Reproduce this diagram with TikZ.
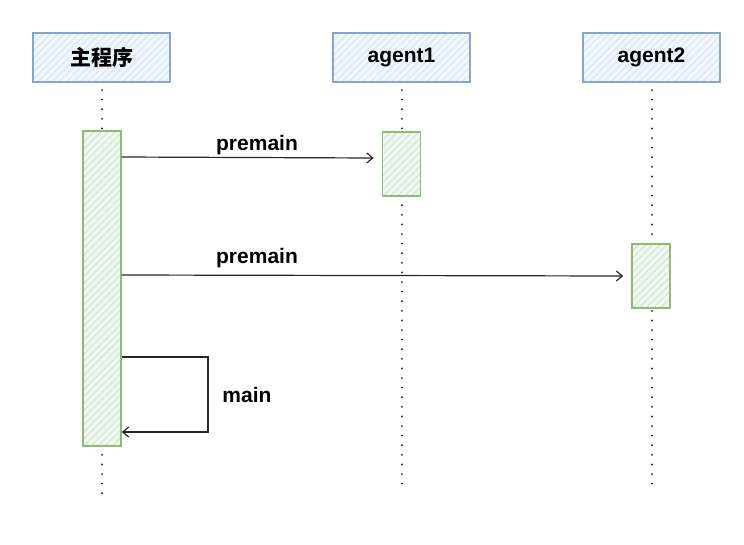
\documentclass[tikz,border=0pt]{standalone}
\usepackage{fontspec}
\setmainfont{Liberation Sans}
\newfontfamily\cjk{Noto Sans CJK SC}
\usetikzlibrary{patterns,patterns.meta,arrows.meta}
\definecolor{hdrfill}{HTML}{DAE8FC}
\definecolor{hdrdraw}{HTML}{6C8EBF}
\definecolor{actfill}{HTML}{D5E8D4}
\definecolor{actdraw}{HTML}{82B366}
\tikzset{
  hdr/.style={draw=hdrdraw!80, line width=1.3pt, preaction={fill=hdrfill!35},
    pattern={Lines[angle=45,distance=5pt,line width=1.3pt]}, pattern color=hdrfill,
    minimum width=137pt, minimum height=49pt, inner sep=0pt,
    font=\fontsize{21}{25}\selectfont\bfseries},
  act/.style={draw=actdraw!90, line width=1.6pt, preaction={fill=actfill!35},
    pattern={Lines[angle=45,distance=5pt,line width=1.3pt]}, pattern color=actfill,
    inner sep=0pt},
  life/.style={line width=2pt, dash pattern=on 0.1pt off 9.5pt, line cap=round, black!85},
  msg/.style={line width=1.2pt, -{Straight Barb[length=6pt,width=10pt]}, black!85},
  lbl/.style={font=\fontsize{21}{25}\selectfont\bfseries, inner sep=0pt}
}
\begin{document}
\begin{tikzpicture}[x=1pt,y=-1pt]
\useasboundingbox (0,0) rectangle (744,544);
% lifelines
\coordinate (l0top) at (102,90);
\coordinate (l0bot) at (102,495);
\coordinate (l1top) at (402,90);
\coordinate (l1bot) at (402,485);
\coordinate (l2top) at (652,90);
\coordinate (l2bot) at (652,485);
\draw[life] (l0top) -- (l0bot);
\draw[life] (l1top) -- (l1bot);
\draw[life] (l2top) -- (l2bot);
% headers
\node[hdr] (h0) at (101.5,57.5) {\cjk\bfseries 主程序};
\node[hdr] (h1) at (401.5,57.5) {agent1};
\node[hdr] (h2) at (651.5,57.5) {agent2};
% activations
\node[act, minimum width=38pt, minimum height=315pt] (a0) at (102,288.5) {};
\node[act, minimum width=38pt, minimum height=64pt] (a1) at (401.5,164) {};
\node[act, minimum width=38pt, minimum height=64pt] (a2) at (651,276) {};
% messages
\draw[msg] (a0.east |- 0,157) -- ([xshift=-8pt]a1.west |- 0,158);
\node[lbl] (m1) at (257,145) {premain};
\draw[msg] (a0.east |- 0,275) -- ([xshift=-8pt]a2.west |- 0,276);
\node[lbl] (m2) at (257,258) {premain};
\coordinate (s1) at (208,357);
\coordinate (s2) at (208,432);
\draw[msg] (a0.east |- s1) -- (s1) -- (s2) -- (a0.east |- s2);
\node[lbl] (m3) at (247,395) {main};
\end{tikzpicture}
\end{document}
